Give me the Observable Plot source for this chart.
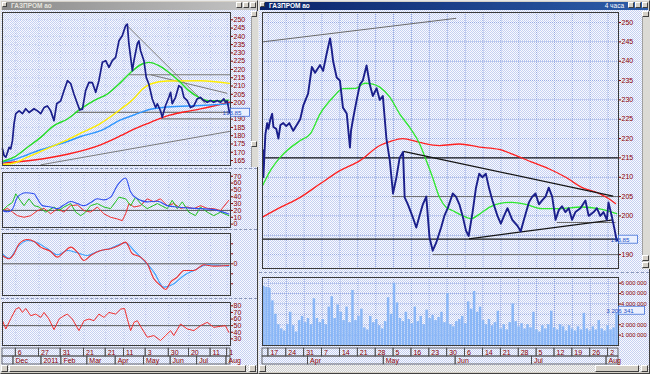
<!DOCTYPE html>
<html><head><meta charset="utf-8">
<script src="https://cdn.jsdelivr.net/npm/d3@7"></script>
<script src="https://cdn.jsdelivr.net/npm/@observablehq/plot@0.6"></script>
<style>
body{margin:0;background:#808080;}
#root{position:relative;width:650px;height:374px;overflow:hidden;font-family:"Liberation Sans",Arial,sans-serif;background:#808080;}
.win{position:absolute;top:0;height:374px;background:#d4d0c8;box-sizing:border-box;border:1px solid;border-color:#e8e8e8 #404040 #404040 #e8e8e8;}
.title{position:absolute;left:1px;right:1px;top:1px;height:8px;font-size:6.5px;font-weight:bold;line-height:8px;padding-left:9px;white-space:nowrap;}
.client{position:absolute;top:9px;height:355px;background-color:#e2e8f8;background-image:repeating-conic-gradient(#c6d0f0 0% 25%, #f9faff 0% 50%);background-size:2px 2px;}
.sep{position:absolute;height:0;border-top:1px dashed #8a96b8;}
.strip{position:absolute;background:#dcdad4;border-left:1px solid #a0a0a0;}
.btn{position:absolute;width:6px;height:6px;background:#d4d0c8;border:1px solid;border-color:#fff #404040 #404040 #fff;box-sizing:border-box;}
.track{position:absolute;height:7px;background-color:#e6e6e6;background-image:repeating-conic-gradient(#d0d0d0 0% 25%, #f4f4f4 0% 50%);background-size:2px 2px;}
.thumb{position:absolute;top:0;height:7px;background:#d4d0c8;border:1px solid;border-color:#fff #404040 #404040 #fff;box-sizing:border-box;}
</style></head>
<body>
<div id="root">
  <div class="win" style="left:0;width:258px;">
    <div class="title" style="background-color:#a0a0a0;background-image:linear-gradient(90deg,#8a8a8a,#c4c4c4);color:#e4e2dc;">ГАЗПРОМ ао</div>
    <div class="client" style="left:0;width:256px;"></div>
  </div>
  <div class="win" style="left:258px;width:392px;">
    <div class="title" style="background-color:#0a246a;background-image:linear-gradient(90deg,#0a246a,#2d5ca8);color:#fff;">ГАЗПРОМ ао<span style="position:absolute;right:24px;font-weight:normal;">4 часа</span></div>
    <div class="client" style="left:0;width:390px;"></div>
  </div>
  <div class="btn" style="left:2px;top:2px;width:5px;height:5px;"></div>
  <div class="btn" style="left:260px;top:2px;width:5px;height:5px;"></div>
  <div class="btn" style="left:236px;top:2px;"></div><div class="btn" style="left:243px;top:2px;"></div><div class="btn" style="left:250px;top:2px;"></div>
  <div class="btn" style="left:628px;top:2px;"></div><div class="btn" style="left:635px;top:2px;"></div><div class="btn" style="left:642px;top:2px;"></div>
  <div class="sep" style="left:1px;width:256px;top:168px;"></div>
  <div class="sep" style="left:1px;width:256px;top:229px;"></div>
  <div class="sep" style="left:1px;width:256px;top:298px;"></div>
  <div class="sep" style="left:259px;width:390px;top:272px;"></div>
  <div class="strip" style="left:251px;top:11px;width:6px;height:156px;"></div>
  <div class="btn" style="left:251px;top:11px;"></div><div class="btn" style="left:251px;top:141px;"></div>
  <div class="strip" style="left:642px;top:11px;width:7px;height:258px;"></div>
  <div class="btn" style="left:642px;top:11px;width:7px;"></div><div class="btn" style="left:642px;top:255px;width:7px;"></div><div class="btn" style="left:642px;top:262px;width:7px;"></div>
  <div class="track" style="left:1px;top:365px;width:256px;"><div class="btn" style="left:0;top:0;width:7px;height:7px;"></div><div class="thumb" style="left:8px;width:237px;"></div><div class="btn" style="left:248px;top:0;width:7px;height:7px;"></div></div>
  <div class="track" style="left:259px;top:365px;width:390px;"><div class="btn" style="left:0;top:0;width:7px;height:7px;"></div><div class="thumb" style="left:336px;width:44px;"></div><div class="btn" style="left:382px;top:0;width:7px;height:7px;"></div></div>
</div>
<script>
// ================= DATA =================
// ---- right window (4-hour chart), x in label intervals (weeks) ----
const rightDayLabels = ["17","24","31","7","14","21","28","5","16","23","30","6","14","21","28","5","12","19","26","2"];
const rightDaySeps = [0,1,2,3,4,5,6,7,8,9,10,11,12,13,14,15,16,17,18,19];
const rightMonthLabels = ["Apr","May","Jun","Jul","Aug"];
const rightMonthSeps = [2.22,6.45,10.47,14.74,18.91];
const rightPriceTicks = [190,195,200,205,210,215,220,225,230,235,240,245,250];
const rightPriceLabels = [190,200,205,210,215,220,225,230,235,240,245,250]; // 195 is hidden by the price tag
const rightVolTicks = [1,2,3,4,5,6];
const rightVolLabels = [1,2,4,5,6]; // 3 000 000 is hidden by the volume tag
const rightT = [-0.33,-0.31,-0.28,-0.17,-0.07,0.00,0.11,0.21,0.28,0.44,
  0.56,0.67,0.83,1.00,1.17,1.39,1.78,1.95,2.22,2.43,
  2.61,2.89,3.06,3.26,3.45,3.54,3.62,3.82,4.00,4.17,
  4.38,4.56,4.62,4.73,4.93,5.12,5.28,5.49,5.67,5.84,
  6.05,6.23,6.40,6.60,6.79,6.97,7.16,7.34,7.53,7.62,
  7.80,8.08,8.27,8.45,8.64,8.83,9.01,9.19,9.38,9.66,
  9.84,10.03,10.31,10.49,10.68,10.86,11.05,11.20,11.42,11.61,
  11.79,11.97,12.16,12.35,12.53,12.81,13.00,13.18,13.37,13.64,
  13.92,14.11,14.29,14.57,14.76,14.94,15.13,15.31,15.50,15.68,
  15.87,16.06,16.24,16.42,16.61,16.80,16.98,17.17,17.45,17.73,
  17.91,18.19,18.37,18.56,18.74,18.93,19.02,19.20,19.35,19.48,19.55];
const rightClose = [211,217,210,221,224,222.5,225,226.4,223,222.5,
  220,223.5,224,223.2,224,222,225,228.5,231.6,238.5,
  237,239,237.5,242,245.9,243,240,235.8,235,228,
  226.5,217.7,222,225,229.8,234,235,238.9,234,231,
  233,230,231,220,214.3,205.8,210,215,216.5,204.8,
  203,199.6,197,200,203,205,194.4,191,193,197,
  200,202,205.8,205,203,200,196.2,194.8,201,207.3,
  210.9,210,210.9,207,204,200,198,200,202,199,
  197.5,196,199,203.5,205,205.8,203,204,205,207.3,
  205,199,201.5,202.5,201,202,199,201,202,204,
  200,201,202,200,201,199,203.5,200,196.7,193.6,193.85];
const rightGreenT = [-0.33,0.11,0.67,1.78,2.34,2.89,3.62,4.17,4.89,5.39,5.84,6.23,6.79,7.34,7.90,8.45,8.83,9.18,9.57,9.94,10.29,10.85,11.33,11.79,12.35,12.90,13.63,14.40,15.29,16.24,17.52,18.46,19.47];
const rightGreen = [207.8,211.7,215.2,219.5,221.2,226.4,230.7,232.9,233.0,234.3,234.1,233.3,230.7,226.4,222.9,218.7,214.3,210,204.8,202.2,201.4,200.1,199.3,200.4,202.2,203.2,203.5,203,201.9,201.9,202.3,201.9,200.6];
const rightRedT = [-0.33,0.67,1.78,2.89,4.00,5.12,6.23,6.79,7.51,8.45,9.57,10.68,11.79,12.90,13.85,14.74,15.68,16.63,17.52,18.46,19.02,19.41];
const rightRed = [199.7,202.2,204.8,208.3,211.7,214.3,218.2,219.2,220,219,218.2,218.6,217.8,217.2,215.6,213.9,212.2,210,207.4,205.9,204.5,203.2];
const rightBlackLevels = [215,194];
const rightLinesGray = [
  {x1:-0.33,y1:245,x2:10.5,y2:251.1},
  {x1:6.9,y1:205,x2:19.58,y2:205},
  {x1:9.18,y1:190,x2:19.58,y2:190},
  {x1:16.13,y1:198.3,x2:19.41,y2:198.3}];
const rightLinesBlack = [
  {x1:7.55,y1:216.7,x2:19.28,y2:205.1},
  {x1:11.22,y1:194.06,x2:19.28,y2:199}];
const rightLast = 193.85;
// volume, millions of shares per bar
const rightVolume = [5.7,5.6,5.5,4.3,3.0,2.0,1.6,1.4,2.0,3.2,
  1.9,1.3,2.4,2.8,2.2,2.6,2.0,4.5,2.6,2.2,
  2.5,2.0,3.7,4.7,2.6,3.9,3.2,2.4,3.7,2.2,
  5.3,2.4,2.8,3.5,1.7,1.5,2.8,2.2,2.5,1.9,
  1.6,2.3,4.6,3.0,6.0,4.1,2.6,2.3,3.2,2.5,
  2.1,3.7,2.3,2.8,2.0,3.4,2.6,2.9,2.4,2.7,
  3.2,2.2,5.0,2.0,1.8,2.3,2.5,2.8,2.1,4.2,
  3.5,5.2,3.2,3.7,2.4,2.0,2.5,1.9,2.2,3.3,
  1.6,2.0,1.5,2.2,4.0,2.3,1.8,2.1,1.6,2.0,
  1.7,3.2,1.5,1.3,1.9,1.6,2.0,3.3,1.7,1.5,
  2.0,1.8,1.4,1.9,1.6,1.4,1.8,1.5,3.1,1.6,
  1.4,1.8,1.5,2.4,1.6,1.4,1.9,1.5,1.7,3.1];
const rightVolLast = 3.35, rightVolLastText = "3 206 341";

// ---- left window (daily chart), x in trading days ----
const leftDayLabels = ["6","27","31","21","21","11","3","30","20","11","1"];
const leftDaySeps = [0,16.1,31.1,47.3,62.3,75,90,106,120,135,146.5];
const leftMonthLabels = ["Dec","2011","Feb","Mar","Apr","May","Jun","Jul","Aug"];
const leftMonthSeps = [-1.6,17.8,31.6,49.6,69.2,88.8,107.3,125.7,146];
const leftPriceTicks = [165,170,175,180,185,190,195,200,205,210,215,220,225,230,235,240,245,250];
const leftPriceLabels = [165,170,175,180,185,190,200,205,210,215,220,225,230,235,240,245,250]; // 195 is hidden by the price tag
const leftDmiTicks = [0,10,20,30,40,50,60,70];
const leftMacdTicks = [-4,-2,0,2,4];
const leftRsiTicks = [30,40,50,60,70,80];
const leftD = [-9.2,-8.1,-6.9,-5.7,-4.6,-3.5,-2.3,-1.2,0,2.3,
  4.6,6.9,9.2,12.7,15.0,17.3,19.6,21.9,24.2,26.5,
  28.4,31.1,33.4,35.8,38.1,40.3,42.7,44.3,46.2,48.4,
  50.7,53.1,55.4,57.6,60.0,62.3,64.6,66.9,69.2,71.5,
  73.8,76.1,77.3,78.4,79.6,80.8,81.9,84.2,85.3,86.5,
  88.8,90.4,92.2,94.6,96.9,98.1,100.3,101.5,103.8,106.1,
  107.3,108.4,110.7,113.0,114.9,116.5,118.8,121.1,123.4,125.7,
  128.0,130.3,132.7,134.9,137.2,139.6,141.9,144.2,145.3,146.5,148.1];
const leftClose = [172,168,167,170,173,172,177,187.3,193.3,195,
  193.3,196.3,194,196.3,195,193.3,197,198,195,189.1,
  199.3,201,207.2,213.2,211.4,205.2,199.3,195.6,196,207.2,
  212.2,212,206.2,213.2,224.3,225.3,221.3,225.3,227.3,237.3,
  240.4,246.4,247.4,235.4,227.3,219.3,225.3,235.4,237.3,231.3,
  225.3,215.2,211.2,202.2,197,199.3,195,191.1,198.2,203.2,
  206.2,199.3,203.2,210.2,209,203.2,201.2,197,198,202.2,
  203.2,201.2,200.2,201.2,200.2,201.2,200.2,202.2,200.2,201,193.85];
const leftGreenD = [-9.2,-1.2,8.1,17.3,26.5,35.8,45.0,54.2,63.5,72.7,79.6,87.6,92.2,99.2,106.1,113.0,119.9,126.8,133.8,140.7,147.6];
const leftGreen = [164.5,167,173,179,186.1,190.1,196.2,201.2,205.2,212.2,218.2,223.3,224.3,222.3,218.2,213.2,207.2,203.2,201.2,201.2,201.5];
const leftYellowD = [-9.2,-1.2,8.1,17.3,26.5,35.8,45,58.8,72.7,81.9,87.6,93.4,105,128,148];
const leftYellow = [162.5,163.5,167,170.5,174,177.5,181.5,187.5,196,202.5,208,211.2,213,213.2,211.6];
const leftBlueD = [-9.2,-1.2,8.1,17.3,26.5,35.8,45,58.8,72.7,81.9,93.4,105,128,148];
const leftBlue = [164,165.5,168.5,171.5,174,176.5,179.5,183,189.5,192.5,196,197.3,198.2,199.2];
const leftRedD = [-9.2,12.7,35.8,58.8,72.7,81.9,93.4,105,116.5,128,148];
const leftRed = [163.5,165.3,168.8,174.5,180,184,188.1,192,194.3,196.2,200.2];
const leftLinesGray = [
  {x1:17.3,y1:162.4,x2:148.8,y2:182.7},
  {x1:76.1,y1:247.4,x2:131.5,y2:199.3},
  {x1:93.4,y1:216.8,x2:146.5,y2:205.6}];
const leftLevels = [
  {x1:40.8,x2:148.8,y:194.1},
  {x1:100.3,x2:148.8,y:190.1},
  {x1:78.4,x2:148.8,y:216.8}];
const leftLast = 193.85;
// DMI: ADX (blue), +DI (green), -DI (red)
const adxD = [-9.2,-5.7,-2.3,1.2,6.9,12.7,15.0,18.5,24.2,28.9,33.4,38.1,42.7,47.3,51.9,56.5,61.1,65.7,70.4,76.1,79.6,84.2,91.1,98.1,105.0,111.9,118.8,128.0,137.2,147.6];
const adx = [19.7,18,22,39.4,45.8,44.3,37,27,25,22.6,28,33,30,27,31.5,37,35.5,39.4,56.7,67.5,46.8,37,32.5,33.5,27,25,23.7,22.6,21.2,14.8];
const pdiD = [-9.2,-5.7,-2.3,0,2.3,5.7,9.2,12.7,16.1,20.8,26.5,30.0,33.4,38.1,41.5,45.0,48.4,51.9,56.5,61.1,65.7,71.5,76.1,79.6,83.0,86.5,91.1,98.1,105.0,108.4,111.9,115.4,119.9,124.6,128.0,132.7,137.2,141.9,147.6];
const pdi = [19.7,27,31.5,44.3,37,27,37,27,25,17.5,25,19.7,25,30,17.5,12.3,17.5,27,30,25,22.6,39.4,37,27,39.4,30,22.6,30,22.6,34.8,22.6,32.5,17.5,12.3,25,17.5,12.3,17.5,12.3];
const mdiD = [-9.2,-5.7,-2.3,1.2,5.7,10.4,15.0,19.6,24.2,28.9,33.4,38.1,42.7,47.3,51.9,56.5,61.1,65.7,70.4,73.8,76.1,78.4,81.9,86.5,91.1,95.7,100.3,105.0,109.5,114.2,118.8,123.4,128.0,132.7,137.2,141.9,147.6];
const mdi = [19.7,23,17.5,12.3,10,12.3,19.7,23,15,22.6,17.5,27,28,19.7,17.5,25,15,10,7.5,5,15,30,25,27,37,32.5,37,27,30,23,25,22.6,27,23,22.6,19.7,34.8];
const dmiLevel = 20;
// MACD (red) and signal (blue)
const macdD = [-9.2,-4.6,-1.2,2.3,8.1,12.7,17.3,24.2,28.9,33.4,38.1,42.7,47.3,51.9,58.8,65.7,71.5,76.1,80.8,86.5,91.1,95.7,100.3,103.8,107.3,111.9,116.5,123.4,130.3,137.2,147.6];
const macd = [1.66,1.0,2.0,4.0,4.86,4.46,3.33,2.46,1.33,2.33,3.33,2.33,0.66,1.66,2.66,3.0,3.66,4.33,2.0,1.33,0,-3.0,-4.33,-5.13,-3.66,-2.66,-1.33,-1.33,-0.2,-0.46,-0.33];
const signalD = [-9.2,-4.6,1.2,8.1,15.0,21.9,28.9,35.8,42.7,49.6,56.5,65.7,76.1,81.9,88.8,95.7,102.6,109.5,116.5,123.4,132.7,141.9,147.6];
const signal = [2.0,1.1,3.33,4.66,4.2,3.0,1.8,2.66,2.2,1.66,2.46,3.1,4.2,2.66,0.66,-1.66,-4.66,-4.0,-2.33,-1.33,-0.2,-0.33,-0.46];
// RSI
const rsiD = [-9.2,-6.9,-3.5,0,2.3,4.6,6.9,10.4,13.8,17.3,19.6,23.0,26.5,30.0,33.4,35.8,39.2,43.8,47.3,50.7,54.2,57.6,61.1,64.6,69.2,72.7,75.4,77.3,79.6,81.9,84.2,87.6,91.1,95.7,100.3,103.8,107.3,109.5,114.2,118.8,123.4,128.0,132.7,137.2,141.9,145.3,147.6];
const rsi = [57.5,45,60.5,75,77.5,70,76,65,67.5,62.5,70,60,44,60,65,67.5,60,42.5,57.5,60,57.5,67.5,62.5,70,67.5,75,76,60,42.5,55,57.5,45,32.5,35,27.5,35,42.5,35,52.5,45,42.5,50,55,47.5,49,50,40];
const rsiLevel = 50;

// ================= DRAWING =================
const root = document.getElementById("root");
const MAROON = "#8b0000", GRID = "#94a8e2", FRAME = "#3a3a3a", PRICE = "#1a1f8c";
const style = {background:"transparent", fontFamily:"'Liberation Sans', Arial, sans-serif", fontSize:"7px", color:MAROON, overflow:"visible"};
const pts = (xs, ys) => xs.map((x, i) => ({x, y: ys[i]}));
function place(el, left, top) { el.style.position = "absolute"; el.style.left = left + "px"; el.style.top = top + "px"; root.appendChild(el); return el; }
function tag(value, text, w) {
  return (index, scales, values, dims) => {
    const g = d3.create("svg:g");
    const x0 = dims.width - dims.marginRight + 0.5, yy = scales.y(value);
    g.append("rect").attr("x", x0).attr("y", yy - 4).attr("width", w).attr("height", 8)
      .attr("fill", "#eaf0ff").attr("stroke", "#3f6fd6").attr("stroke-width", 0.8);
    g.append("text").attr("x", x0 + 1.5).attr("y", yy + 2.4).attr("fill", "#1d4fc4")
      .attr("font-size", 6.2).text(text);
    return g.node();
  };
}

// ---- right window ----
const RX = {domain:[-0.33,19.58], axis:null};
place(Plot.plot({
  width:388, height:260, marginLeft:2, marginRight:30, marginTop:2, marginBottom:2, style,
  x:RX,
  y:{domain:[186.4,252.6], axis:"right", ticks:rightPriceLabels, tickSize:2, tickPadding:1, label:null},
  marks:[
    Plot.ruleX(rightDaySeps, {stroke:GRID, strokeDasharray:"1,1"}),
    Plot.ruleY(rightPriceTicks, {stroke:GRID, strokeDasharray:"1,1"}),
    Plot.ruleY(rightBlackLevels, {stroke:"#151515", strokeWidth:1.3}),
    Plot.link(rightLinesGray, {x1:"x1", y1:"y1", x2:"x2", y2:"y2", stroke:"#6a6a6a", strokeWidth:1}),
    Plot.line(pts(rightRedT, rightRed), {x:"x", y:"y", stroke:"#ff2020", strokeWidth:1.3, curve:"monotone-x"}),
    Plot.line(pts(rightGreenT, rightGreen), {x:"x", y:"y", stroke:"#2ee82e", strokeWidth:1.3, curve:"monotone-x"}),
    Plot.link(rightLinesBlack, {x1:"x1", y1:"y1", x2:"x2", y2:"y2", stroke:"#151515", strokeWidth:1.3}),
    Plot.line(pts(rightT, rightClose), {x:"x", y:"y", stroke:PRICE, strokeWidth:1.9, clip:true}),
    Plot.frame({stroke:FRAME}),
    tag(rightLast, "193.85", 19)
  ]
}), 260, 10);

const volStart = -0.33, volStep = (19.58 + 0.33) / rightVolume.length;
const volRows = rightVolume.map((v, i) => ({x1: volStart + i * volStep, x2: volStart + (i + 1) * volStep, v}));
const fmtVol = d => d3.format(",")(d * 1e6).replace(/,/g, " ");
place(Plot.plot({
  width:390, height:72, marginLeft:2, marginRight:32, marginTop:2, marginBottom:2,
  style:{...style, fontSize:"5.8px"},
  x:RX,
  y:{domain:[0,6.55], axis:"right", ticks:rightVolLabels, tickFormat:fmtVol, tickSize:2, tickPadding:0.5, label:null},
  marks:[
    Plot.ruleX(rightDaySeps, {stroke:GRID, strokeDasharray:"1,1"}),
    Plot.ruleY(rightVolTicks, {stroke:GRID, strokeDasharray:"1,1"}),
    Plot.rectY(volRows, {x1:"x1", x2:"x2", y:"v", fill:"#88b6f6", insetLeft:0.25, insetRight:0.25, clip:true}),
    Plot.frame({stroke:FRAME}),
    tag(rightVolLast, rightVolLastText, 26)
  ]
}), 260, 275);

function dateAxis(left, top, width, marginRight, domain, daySeps, dayLabels, monthSeps, monthLabels) {
  const cells = [];
  const ds = [domain[0], ...daySeps, domain[1]];
  for (let i = 0; i < ds.length - 1; i++) cells.push({x1: ds[i], x2: ds[i + 1], row: "d"});
  const ms = [domain[0], ...monthSeps, domain[1]];
  for (let i = 0; i < ms.length - 1; i++) cells.push({x1: ms[i], x2: ms[i + 1], row: "m"});
  const dayText = dayLabels.map((t, i) => ({x: daySeps[i], t, row: "d"}));
  const monText = monthLabels.map((t, i) => ({x: monthSeps[i], t, row: "m"}));
  place(Plot.plot({
    width, height:19, marginLeft:2, marginRight, marginTop:1, marginBottom:1, style,
    x:{domain, axis:null},
    y:{domain:["d","m"], axis:null, padding:0},
    marks:[
      Plot.barX(cells, {x1:"x1", x2:"x2", y:"row", fill:"none", stroke:"#4a4a4a", strokeWidth:0.8}),
      Plot.text(dayText, {x:"x", y:"row", text:"t", textAnchor:"start", dx:2, fill:MAROON}),
      Plot.text(monText, {x:"x", y:"row", text:"t", textAnchor:"start", dx:2, fill:MAROON})
    ]
  }), left, top);
}
dateAxis(260, 346, 388, 30, RX.domain, rightDaySeps, rightDayLabels, rightMonthSeps, rightMonthLabels);

// ---- left window ----
const LX = {domain:[-9.2,148.8], axis:null};
function leftPlot(top, height, y, marks) {
  return place(Plot.plot({width:258, height, marginLeft:2, marginRight:28, marginTop:2, marginBottom:2, style, x:LX, y, marks}), 0, top);
}
leftPlot(10, 157, {domain:[162,254.4], axis:"right", ticks:leftPriceLabels, tickSize:2, tickPadding:1, label:null}, [
  Plot.ruleX(leftDaySeps, {stroke:GRID, strokeOpacity:0.5, strokeDasharray:"1,2"}),
  Plot.ruleY(leftPriceTicks, {stroke:GRID, strokeOpacity:0.45, strokeDasharray:"1,2"}),
  Plot.link(leftLinesGray, {x1:"x1", y1:"y1", x2:"x2", y2:"y2", stroke:"#6e6e6e", strokeWidth:0.9}),
  Plot.link(leftLevels, {x1:"x1", x2:"x2", y1:"y", y2:"y", stroke:"#7a7a7a", strokeWidth:1.2}),
  Plot.line(pts(leftRedD, leftRed), {x:"x", y:"y", stroke:"#ff1e1e", strokeWidth:1.4, curve:"monotone-x"}),
  Plot.line(pts(leftBlueD, leftBlue), {x:"x", y:"y", stroke:"#2f96ff", strokeWidth:1.4, curve:"monotone-x"}),
  Plot.line(pts(leftYellowD, leftYellow), {x:"x", y:"y", stroke:"#ffee00", strokeWidth:1.4, curve:"monotone-x"}),
  Plot.line(pts(leftGreenD, leftGreen), {x:"x", y:"y", stroke:"#22dd22", strokeWidth:1.4, curve:"monotone-x"}),
  Plot.line(pts(leftD, leftClose), {x:"x", y:"y", stroke:PRICE, strokeWidth:1.7}),
  Plot.frame({stroke:FRAME}),
  tag(leftLast, "193.85", 19)
]);
leftPlot(170, 59, {domain:[-5,75.5], axis:"right", ticks:leftDmiTicks, tickSize:2, tickPadding:1, label:null}, [
  Plot.ruleX(leftDaySeps, {stroke:GRID, strokeOpacity:0.5, strokeDasharray:"1,2"}),
  Plot.ruleY([dmiLevel], {stroke:"#555", strokeWidth:1}),
  Plot.line(pts(mdiD, mdi), {x:"x", y:"y", stroke:"#f03030", strokeWidth:1}),
  Plot.line(pts(pdiD, pdi), {x:"x", y:"y", stroke:"#20c020", strokeWidth:1}),
  Plot.line(pts(adxD, adx), {x:"x", y:"y", stroke:"#3050f0", strokeWidth:1.1, curve:"monotone-x"}),
  Plot.frame({stroke:FRAME})
]);
leftPlot(231, 66, {domain:[-6.34,6.06], axis:"right", ticks:leftMacdTicks, tickFormat:d => d === 0 ? "0" : "", tickSize:2, tickPadding:1, label:null}, [
  Plot.ruleX(leftDaySeps, {stroke:GRID, strokeOpacity:0.5, strokeDasharray:"1,2"}),
  Plot.ruleY([0], {stroke:"#555", strokeWidth:1}),
  Plot.line(pts(signalD, signal), {x:"x", y:"y", stroke:"#3aa0ff", strokeWidth:1.1, curve:"monotone-x"}),
  Plot.line(pts(macdD, macd), {x:"x", y:"y", stroke:"#f03030", strokeWidth:1.1, curve:"monotone-x"}),
  Plot.frame({stroke:FRAME})
]);
leftPlot(300, 47, {domain:[20,85], axis:"right", ticks:leftRsiTicks, tickSize:2, tickPadding:1, label:null}, [
  Plot.ruleX(leftDaySeps, {stroke:GRID, strokeOpacity:0.5, strokeDasharray:"1,2"}),
  Plot.ruleY([rsiLevel], {stroke:"#555", strokeWidth:1}),
  Plot.line(pts(rsiD, rsi), {x:"x", y:"y", stroke:"#f03030", strokeWidth:1}),
  Plot.frame({stroke:FRAME})
]);
dateAxis(0, 346, 258, 28, LX.domain, leftDaySeps, leftDayLabels, leftMonthSeps, leftMonthLabels);
</script>
</body></html>
